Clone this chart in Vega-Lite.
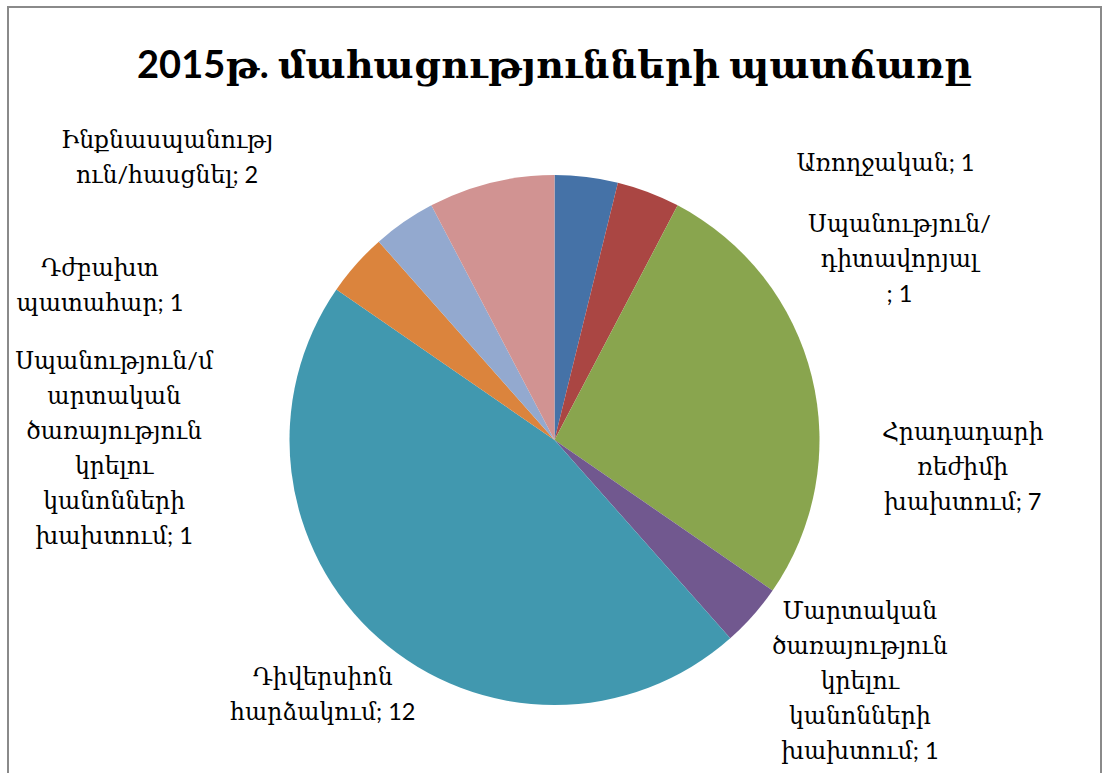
{
  "$schema": "https://vega.github.io/schema/vega-lite/v6.json",
  "width": 1104,
  "height": 773,
  "autosize": {"type": "fit", "contains": "padding"},
  "padding": {"left": 8, "top": 7, "right": -2, "bottom": -100},
  "background": "white",
  "view": {"stroke": "#8a8a8a", "strokeWidth": 2, "fill": "white"},
  "title": {
    "text": "2015թ. մահացությունների պատճառը",
    "font": "Lato, DejaVu Serif",
    "fontWeight": "bold",
    "fontSize": 38,
    "color": "#000000",
    "anchor": "middle",
    "offset": -79
  },
  "config": {
    "view": {"stroke": "#8a8a8a", "strokeWidth": 2},
    "text": {"font": "Lato, DejaVu Serif", "fontSize": 23.5, "lineHeight": 35, "lineBreak": "\n", "align": "center", "baseline": "middle", "color": "#000000"}
  },
  "data": {
    "values": [
      {"order": 1, "cause": "Առողջական", "value": 1, "label": "Առողջական; 1"},
      {"order": 2, "cause": "Սպանություն/դիտավորյալ", "value": 1, "label": "Սպանություն/\nդիտավորյալ\n; 1"},
      {"order": 3, "cause": "Հրադադարի ռեժիմի խախտում", "value": 7, "label": "Հրադադարի\nռեժիմի\nխախտում; 7"},
      {"order": 4, "cause": "Մարտական ծառայություն կրելու կանոնների խախտում", "value": 1, "label": "Մարտական\nծառայություն\nկրելու\nկանոնների\nխախտում; 1"},
      {"order": 5, "cause": "Դիվերսիոն հարձակում", "value": 12, "label": "Դիվերսիոն\nհարձակում; 12"},
      {"order": 6, "cause": "Սպանություն/մարտական ծառայություն կրելու կանոնների խախտում", "value": 1, "label": "Սպանություն/մ\nարտական\nծառայություն\nկրելու\nկանոնների\nխախտում; 1"},
      {"order": 7, "cause": "Դժբախտ պատահար", "value": 1, "label": "Դժբախտ\nպատահար; 1"},
      {"order": 8, "cause": "Ինքնասպանություն/հասցնել", "value": 2, "label": "Ինքնասպանությ\nուն/հասցնել; 2"}
    ]
  },
  "encoding": {
    "theta": {"field": "value", "type": "quantitative", "stack": true},
    "order": {"field": "order", "type": "quantitative"}
  },
  "layer": [
    {
      "mark": {"type": "arc", "outerRadius": 265},
      "encoding": {
        "color": {
          "field": "cause",
          "type": "nominal",
          "legend": null,
          "scale": {
            "domain": ["Առողջական", "Սպանություն/դիտավորյալ", "Հրադադարի ռեժիմի խախտում", "Մարտական ծառայություն կրելու կանոնների խախտում", "Դիվերսիոն հարձակում", "Սպանություն/մարտական ծառայություն կրելու կանոնների խախտում", "Դժբախտ պատահար", "Ինքնասպանություն/հասցնել"],
            "range": ["#4572A7", "#AA4643", "#89A54E", "#71588F", "#4198AF", "#DB843D", "#93A9CF", "#D19392"]
          }
        }
      }
    },
    {"mark": {"type": "text", "radius": 265, "dx": 299, "dy": -13}, "encoding": {"text": {"condition": {"test": "datum.order === 1", "field": "label"}, "value": ""}}},
    {"mark": {"type": "text", "radius": 265, "dx": 251, "dy": 33}, "encoding": {"text": {"condition": {"test": "datum.order === 2", "field": "label"}, "value": ""}}},
    {"mark": {"type": "text", "radius": 265, "dx": 151, "dy": 56}, "encoding": {"text": {"condition": {"test": "datum.order === 3", "field": "label"}, "value": ""}}},
    {"mark": {"type": "text", "radius": 265, "dx": 107, "dy": -4}, "encoding": {"text": {"condition": {"test": "datum.order === 4", "field": "label"}, "value": ""}}},
    {"mark": {"type": "text", "radius": 265, "dx": -56, "dy": 40}, "encoding": {"text": {"condition": {"test": "datum.order === 5", "field": "label"}, "value": ""}}},
    {"mark": {"type": "text", "radius": 265, "dx": -242, "dy": 98}, "encoding": {"text": {"condition": {"test": "datum.order === 6", "field": "label"}, "value": ""}}},
    {"mark": {"type": "text", "radius": 265, "dx": -304, "dy": 47}, "encoding": {"text": {"condition": {"test": "datum.order === 7", "field": "label"}, "value": ""}}},
    {"mark": {"type": "text", "radius": 265, "dx": -324, "dy": -42}, "encoding": {"text": {"condition": {"test": "datum.order === 8", "field": "label"}, "value": ""}}}
  ]
}
